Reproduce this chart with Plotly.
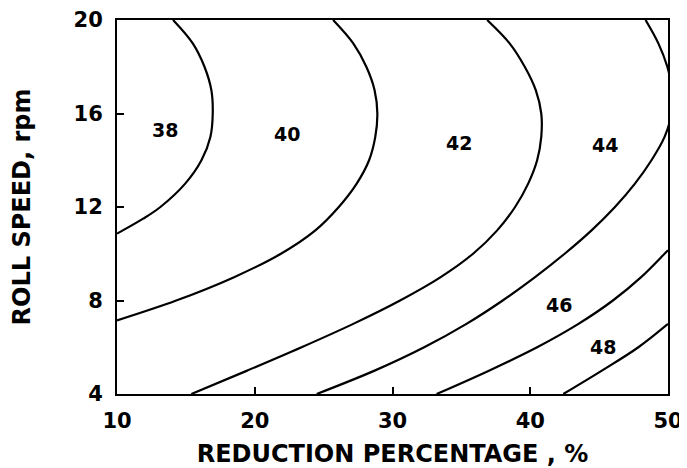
import plotly.graph_objects as go

# Contour levels and label positions
levels = [38, 40, 42, 44, 46, 48]
label_x = [13.46, 22.35, 34.86, 45.46, 42.12, 45.27]
label_y = [15.31, 15.14, 14.74, 14.67, 7.79, 6.00]

# Contour line points (reduction %, roll speed rpm)
c38_x = [10.0, 11.9, 13.15, 14.95, 16.13, 16.78, 16.95, 16.85, 16.35, 15.5, 14.07]
c38_y = [10.86, 11.5, 12, 13, 14, 15, 16, 17, 18, 19, 20]

c40_x = [10.0, 14.3, 18.5, 21.9, 24.4, 26.1, 27.4, 28.3, 28.75, 28.9, 28.7, 28.1, 27.15, 25.69]
c40_y = [7.15, 8, 9, 10, 11, 12, 13, 14, 15, 16, 17, 18, 19, 20]

c42_x = [15.4, 19.45, 23.4, 27.15, 30.55, 33.5, 35.85, 37.6, 38.9, 39.85, 40.5, 40.8, 40.8, 40.4, 39.6, 38.5, 36.87]
c42_y = [4, 5, 6, 7, 8, 9, 10, 11, 12, 13, 14, 15, 16, 17, 18, 19, 20]

c44_x = [24.5, 28.7, 32.3, 35.37, 38.0, 40.35, 42.5, 44.45, 46.15, 47.6, 48.8, 49.75, 50.25, 50.3, 49.95, 49.3, 48.37]
c44_y = [4, 5, 6, 7, 8, 9, 10, 11, 12, 13, 14, 15, 16, 17, 18, 19, 20]

c46_x = [33.2, 37.0, 40.5, 43.5, 46.0, 48.05, 49.75, 50.0]
c46_y = [4, 5, 6, 7, 8, 9, 10, 10.15]

c48_x = [42.4, 45.2, 47.85, 50.0]
c48_y = [4, 5, 6, 7]

contours = [(c38_x, c38_y), (c40_x, c40_y), (c42_x, c42_y),
            (c44_x, c44_y), (c46_x, c46_y), (c48_x, c48_y)]

x_ticks = [10, 20, 30, 40, 50]
y_ticks = [4, 8, 12, 16, 20]

FONT = "DejaVu Sans"

fig = go.Figure()
for lev, (cx, cy) in zip(levels, contours):
    fig.add_trace(go.Scatter(
        x=cx, y=cy, mode="lines", name=str(lev),
        line=dict(color="black", width=2.2, shape="spline", smoothing=1.0),
        showlegend=False, hoverinfo="skip"))

for lev, lx, ly in zip(levels, label_x, label_y):
    fig.add_annotation(x=lx, y=ly, text="<b>%d</b>" % lev, showarrow=False,
                       font=dict(family=FONT, size=19, color="black"))

axis_common = dict(
    showgrid=False, zeroline=False, showline=True, mirror=True,
    linecolor="black", linewidth=2, ticks="inside", ticklen=7,
    tickwidth=1.5, tickcolor="black",
    tickfont=dict(family=FONT, size=21, color="black", weight="bold"),
)

fig.update_xaxes(range=[10, 50], tickvals=x_ticks, ticktext=[str(v) for v in x_ticks],
                 ticklabelstandoff=7,
                 title=dict(text="REDUCTION PERCENTAGE , %", standoff=17,
                            font=dict(family=FONT, size=24, color="black", weight="bold")),
                 **axis_common)
fig.update_yaxes(range=[4, 20], tickvals=y_ticks, ticktext=[str(v) for v in y_ticks],
                 ticklabelstandoff=8,
                 title=dict(text="ROLL SPEED, rpm", standoff=36,
                            font=dict(family=FONT, size=24, color="black", weight="bold")),
                 **axis_common)

fig.update_layout(
    width=679, height=460,
    margin=dict(l=109, r=19, t=12, b=74, autoexpand=False),
    plot_bgcolor="white", paper_bgcolor="white",
)

fig.write_html("out.html")
